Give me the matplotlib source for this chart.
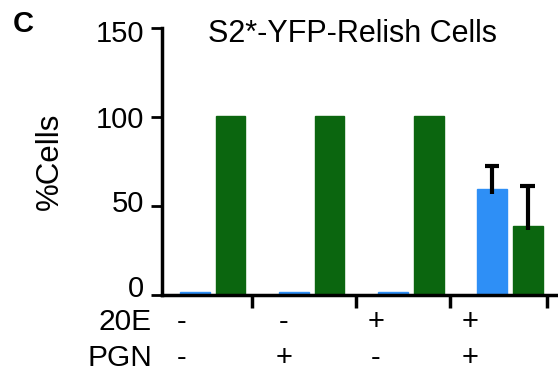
"""S2*-YFP-Relish cells: % cells per treatment, grouped bars."""

import matplotlib

matplotlib.use("Agg")

import matplotlib.pyplot as plt
import matplotlib.transforms as mtransforms
import numpy as np

plt.rcParams["font.family"] = ["Liberation Sans", "DejaVu Sans"]

# data
blue_values = [1.5, 1.5, 1.5, 59.5]
blue_errors = [0.0, 0.0, 0.0, 13.0]
green_values = [100.5, 100.5, 100.5, 39.0]
green_errors = [0.0, 0.0, 0.0, 22.0]
row_20e = ["-", "-", "+", "+"]
row_pgn = ["-", "+", "-", "+"]
y_ticks = [0, 50, 100, 150]

BLUE = "#2E8FF6"
GREEN = "#0B660F"

groups = np.arange(len(blue_values))
offset = 0.18
width = 0.30
cap = 0.075

fig = plt.figure(figsize=(5.58, 3.71), dpi=100)
ax = fig.add_axes([0.290, 0.205, 0.708, 0.7195])

ax.bar(groups - offset, blue_values, width, color=BLUE, edgecolor=BLUE, linewidth=1.0, zorder=2)
ax.bar(groups + offset, green_values, width, color=GREEN, edgecolor=GREEN, linewidth=1.0, zorder=2)
for xs, vals, errs in ((groups - offset, blue_values, blue_errors), (groups + offset, green_values, green_errors)):
    for x, v, e in zip(xs, vals, errs):
        if e > 0:
            ax.vlines(x, v - 2.5, v + e, color="black", linewidth=3, zorder=3)
            ax.hlines(v + e, x - cap, x + cap, color="black", linewidth=3, zorder=3)

ax.set_xlim(-0.515, 3.475)
ax.set_ylim(0, 150)
ax.set_yticks(y_ticks)
ax.set_xticks([0.40, 1.45, 2.40, 3.38])
ax.set_xticklabels([])
ax.tick_params(axis="y", direction="out", length=8, width=2, labelsize=21, pad=5)
ax.tick_params(axis="x", direction="out", length=9, width=2.5)
for side in ("top", "right"):
    ax.spines[side].set_visible(False)
for side in ("left", "bottom"):
    ax.spines[side].set_linewidth(2.5)
# the bottom tick labels sit a little above their ticks in the reference
for label, dy in zip(ax.get_yticklabels(), (9, 5, 0, -3)):
    label.set_transform(label.get_transform() + mtransforms.ScaledTranslation(0, dy / 100, fig.dpi_scale_trans))
ax.set_ylabel("%Cells", fontsize=22.5, labelpad=22)
fig.text(352 / 558, 1 - 42 / 371, "S2*-YFP-Relish Cells", ha="center", va="baseline", fontsize=22)

label_x = [-0.313, 0.717, 1.646, 2.596]
for x, a, b in zip(label_x, row_20e, row_pgn):
    ax.annotate(a, (x, 0.132), xycoords=("data", "figure fraction"), ha="center", va="center", fontsize=21)
    ax.annotate(b, (x, 0.035), xycoords=("data", "figure fraction"), ha="center", va="center", fontsize=21)
fig.text(152 / 558, 0.132, "20E", ha="right", va="center", fontsize=21.5)
fig.text(152 / 558, 0.035, "PGN", ha="right", va="center", fontsize=21.5)
fig.text(13 / 558, 1 - 32 / 371, "C", fontsize=21, fontweight="bold", ha="left", va="baseline")

fig.savefig("out.png", dpi=100)
